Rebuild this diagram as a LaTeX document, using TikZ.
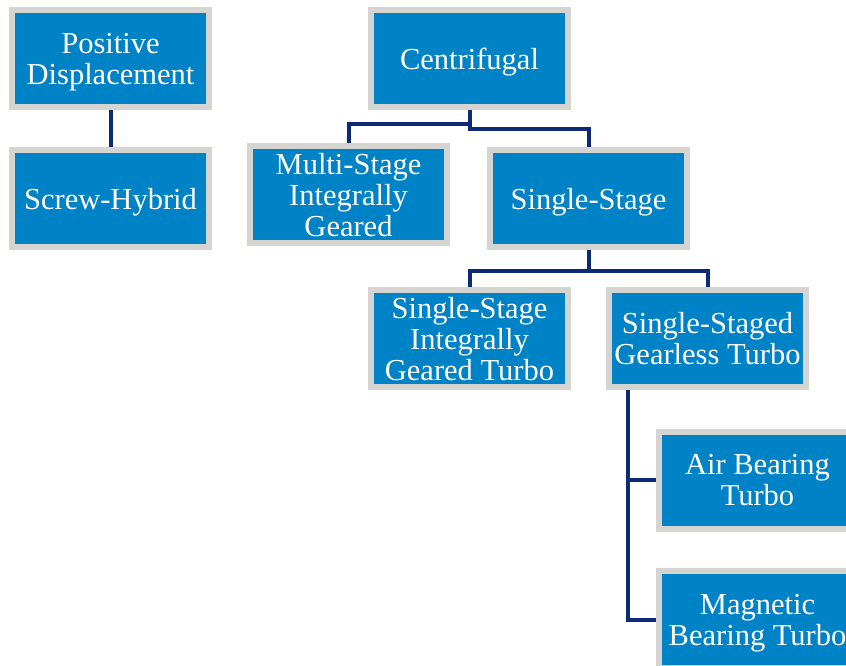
\documentclass[tikz,border=0pt]{standalone}
\usepackage{fontspec}
\setmainfont{Liberation Serif}
\usepackage{tikz}
\usetikzlibrary{positioning,backgrounds}
\definecolor{boxblue}{RGB}{0,130,198}
\definecolor{boxgray}{RGB}{214,212,208}
\definecolor{linknavy}{RGB}{12,42,118}
\tikzset{
  kind/.style={draw=boxgray, line width=6pt, fill=boxblue, text=white,
    minimum width=197pt, minimum height=97pt, inner sep=2pt, align=center,
    text depth=0pt, font=\fontsize{30.5}{31}\selectfont},
  link/.style={draw=linknavy, line width=4pt}
}

\begin{document}
\begin{tikzpicture}[x=1pt, y=-1pt]
			\clip (0,0) rectangle (846,666);
			\node[kind] (Positive) at (110.5,58.5) {Positive\\Displacement};
			\node[kind] (Screw) at (110.5,198.5) {Screw-Hybrid};
			\node[kind] (Centri) at (469.5,58.5) {Centrifugal};
			\node[kind] (Multi) at (348.5,194.5) {Multi-Stage\\Integrally\\Geared};
			\node[kind] (Single) at (588.5,198.5) {Single-Stage};
			\node[kind] (Geared) at (469.5,338.5) {Single-Stage\\Integrally\\Geared Turbo};
			\node[kind] (Gearless) at (707.5,338.5) {Single-Staged\\Gearless Turbo};
			\node[kind] (Air) at (757.5,480) {Air Bearing\\Turbo};
			\node[kind] (Magnetic) at (757.5,619.5) {Magnetic\\Bearing Turbo};
			\coordinate (Trunk) at ([xshift=22pt]Gearless.south west);
			\begin{scope}[on background layer]
			\draw[link] (Positive) -- (Screw);
			\draw[link] (Centri.south) -- ++(0,14) -| (Multi.north);
			\draw[link] (Centri.south) -- ++(0,19) -| (Single.north);
			\draw[link] (Single.south) -- ++(0,21) -| (Geared.north);
			\draw[link] (Single.south) -- ++(0,21) -| (Gearless.north);
			\draw[link] (Trunk) |- (Air.west);
			\draw[link] (Trunk) |- (Magnetic.west);
			\end{scope}
		\end{tikzpicture}
\end{document}
